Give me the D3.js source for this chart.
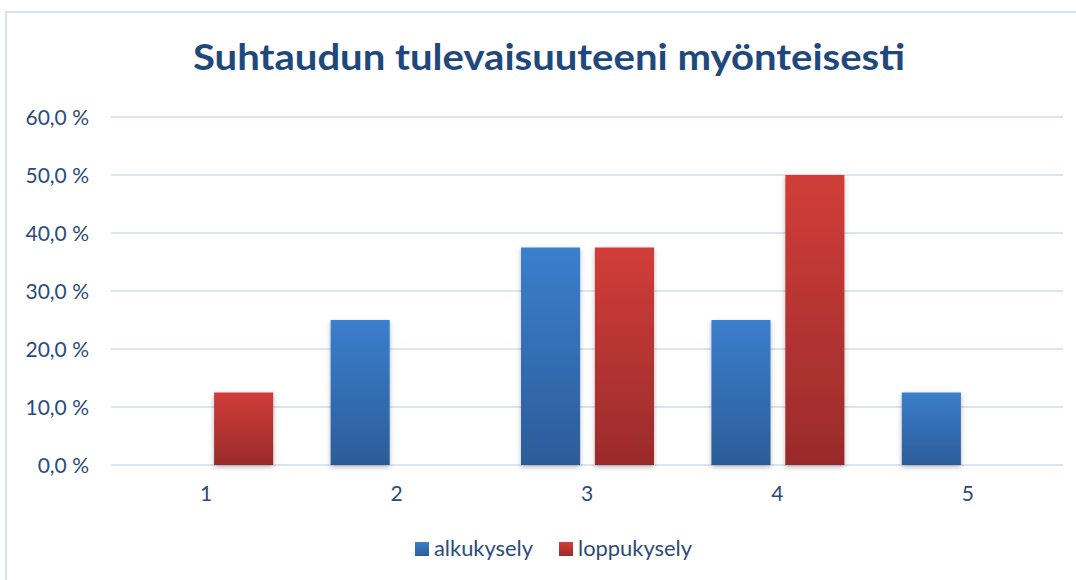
<!DOCTYPE html>
<html>
<head>
<meta charset="utf-8">
<script src="https://cdn.jsdelivr.net/npm/d3@7"></script>
<style>
  html, body { margin: 0; padding: 0; background: #fff; }
  svg { display: block; }
  text { font-family: Lato, "Open Sans", sans-serif; }
</style>
</head>
<body>
<svg id="chart" width="1076" height="580"></svg>
<script>
const categories = ["1", "2", "3", "4", "5"];
const seriesNames = ["alkukysely", "loppukysely"];
const alkukysely = [0, 25, 37.5, 25, 12.5];
const loppukysely = [12.5, 0, 37.5, 50, 0];
const yTicks = [0, 10, 20, 30, 40, 50, 60];
const titleText = "Suhtaudun tulevaisuuteeni myönteisesti";

const svg = d3.select("#chart");
const W = 1076, H = 580;
const plot = { left: 111, right: 1063, top: 117, bottom: 465 };

const defs = svg.append("defs");
const grads = [
  { id: "gBlue", top: "#3B7FCD", bottom: "#2C5C99" },
  { id: "gRed", top: "#D13D39", bottom: "#9A2B2B" }
];
grads.forEach(g => {
  const lg = defs.append("linearGradient").attr("id", g.id)
    .attr("x1", 0).attr("y1", 0).attr("x2", 0).attr("y2", 1);
  lg.append("stop").attr("offset", "0%").attr("stop-color", g.top);
  lg.append("stop").attr("offset", "100%").attr("stop-color", g.bottom);
});
const f = defs.append("filter").attr("id", "shadow")
  .attr("x", "-20%").attr("y", "-10%").attr("width", "140%").attr("height", "125%");
f.append("feDropShadow").attr("dx", 0).attr("dy", 2).attr("stdDeviation", 2.5)
  .attr("flood-color", "#000").attr("flood-opacity", 0.28);

// Border
svg.append("path")
  .attr("d", `M6,${H} L6,12 L${W},12`)
  .attr("fill", "none").attr("stroke", "#D6E3F3").attr("stroke-width", 2);

const x = d3.scaleBand().domain(categories).range([plot.left, plot.right]).padding(0);
const y = d3.scaleLinear().domain([0, 60]).range([plot.bottom, plot.top]);

// Gridlines
svg.append("g").selectAll("line").data(yTicks).join("line")
  .attr("x1", plot.left).attr("x2", plot.right)
  .attr("y1", d => y(d)).attr("y2", d => y(d))
  .attr("stroke", "#DAE5F2").attr("stroke-width", 2);

// Y axis labels
const yAxis = d3.axisLeft(y).tickValues(yTicks).tickSize(0).tickPadding(0)
  .tickFormat(d => d3.format(".1f")(d).replace(".", ",") + " %");
const yg = svg.append("g").attr("transform", `translate(89,0)`).call(yAxis);
yg.select(".domain").remove();
yg.selectAll("text").attr("font-size", 21).attr("fill", "#2A4B7C")
  .attr("font-family", "Lato, sans-serif").attr("dy", "0.35em");

// X axis labels
const xAxis = d3.axisBottom(x).tickSize(0).tickPadding(0);
const xg = svg.append("g").attr("transform", `translate(0,486)`).call(xAxis);
xg.select(".domain").remove();
xg.selectAll("text").attr("font-size", 21).attr("fill", "#2A4B7C")
  .attr("font-family", "Lato, sans-serif").attr("dy", "0.71em");

// Bars
const inner = d3.scaleBand().domain(seriesNames).range([-66, 67]).paddingInner(0.2);
const data = [];
categories.forEach((c, i) => {
  data.push({ cat: c, s: "alkukysely", v: alkukysely[i] });
  data.push({ cat: c, s: "loppukysely", v: loppukysely[i] });
});
svg.append("g").selectAll("rect").data(data.filter(d => d.v > 0)).join("rect")
  .attr("x", d => x(d.cat) + x.bandwidth() / 2 + inner(d.s))
  .attr("width", inner.bandwidth())
  .attr("y", d => y(d.v))
  .attr("height", d => y(0) - y(d.v))
  .attr("fill", d => d.s === "alkukysely" ? "url(#gBlue)" : "url(#gRed)")
  .attr("filter", "url(#shadow)");

// Title
svg.append("text").attr("x", 549).attr("y", 70)
  .attr("text-anchor", "middle")
  .attr("font-size", 36).attr("font-weight", 700).attr("fill", "#1F497D")
  .attr("textLength", 712).attr("lengthAdjust", "spacingAndGlyphs")
  .text(titleText);

// Legend
const legend = [
  { name: seriesNames[0], grad: "url(#gBlue)", x: 415, tw: 99 },
  { name: seriesNames[1], grad: "url(#gRed)", x: 559, tw: 114 }
];
const lg = svg.append("g");
legend.forEach(l => {
  lg.append("rect").attr("x", l.x).attr("y", 542).attr("width", 14).attr("height", 14)
    .attr("fill", l.grad);
  lg.append("text").attr("x", l.x + 19).attr("y", 556)
    .attr("font-size", 21).attr("fill", "#2A4B7C")
    .attr("textLength", l.tw).attr("lengthAdjust", "spacingAndGlyphs")
    .text(l.name);
});
</script>
</body>
</html>
